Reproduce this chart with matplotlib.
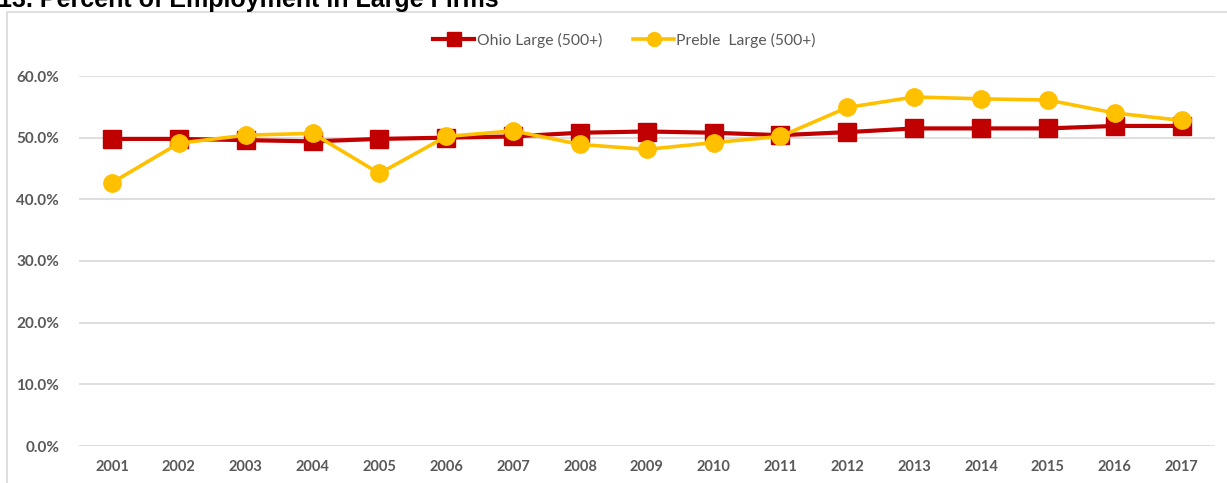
import matplotlib
matplotlib.use("Agg")
import matplotlib.pyplot as plt
from matplotlib.patches import Rectangle
from matplotlib.ticker import PercentFormatter

years = [str(y) for y in range(2001, 2018)]
ohio = [49.8, 49.8, 49.6, 49.4, 49.8, 50.0, 50.2, 50.8, 51.0,
        50.8, 50.4, 50.9, 51.5, 51.5, 51.5, 51.9, 51.9]
preble = [42.7, 49.1, 50.4, 50.7, 44.2, 50.2, 51.1, 48.9, 48.1,
          49.2, 50.2, 54.9, 56.6, 56.3, 56.1, 54.0, 52.8]

W, H = 1227, 483
fig = plt.figure(figsize=(W / 100, H / 100), dpi=100)
plt.rcParams['font.family'] = ['Lato', 'DejaVu Sans']

# chart frame (cut by the image edges)
fig.patches.append(Rectangle((7 / W, -0.1), 1.2, (H - 12) / H + 0.1,
                             transform=fig.transFigure, fill=False,
                             edgecolor="#d9d9d9", linewidth=1.2))

# title sits mostly above the picture, as in the source image
fig.text(-2 / W, 1 - 7 / H, "13. Percent of Employment in Large Firms",
         fontsize=18, fontweight="bold", family="Liberation Sans",
         ha="left", va="baseline", color="#000000")

left, right = 78.6 / W, 1215 / W
bottom, top = (H - 446) / H, (H - 76) / H
ax = fig.add_axes([left, bottom, right - left, top - bottom])

x = range(len(years))
ax.plot(x, ohio, color="#C00000", linewidth=3, marker="s", markersize=12.5,
        label="Ohio Large (500+)", zorder=3)
ax.plot(x, preble, color="#FFC000", linewidth=2.6, marker="o", markersize=12.5,
        label="Preble  Large (500+)", zorder=4)

ax.set_xlim(-0.5, len(years) - 0.5)
ax.set_ylim(0, 60)
ax.set_yticks(range(0, 61, 10))
ax.yaxis.set_major_formatter(PercentFormatter(decimals=1))
ax.set_xticks(list(x))
ax.set_xticklabels(years)
ax.grid(axis="y", color="#d9d9d9", linewidth=1.2)
ax.set_axisbelow(True)
for s in ax.spines.values():
    s.set_visible(False)
ax.tick_params(length=0, labelcolor="#595959")
ax.tick_params(axis="y", pad=14, labelsize=11)
ax.tick_params(axis="x", pad=10, labelsize=10.5)
for lbl in ax.get_xticklabels() + ax.get_yticklabels():
    lbl.set_fontweight("bold")

leg = ax.legend(loc="center", ncol=2, frameon=False, fontsize=11.3,
                handlelength=2.6, markerscale=0.8, columnspacing=2.0,
                handletextpad=0.15, labelcolor="#595959")
leg.set_bbox_to_anchor((0.4805, 1 + 36 / 370), transform=ax.transAxes)

fig.savefig("out.png", dpi=100)
